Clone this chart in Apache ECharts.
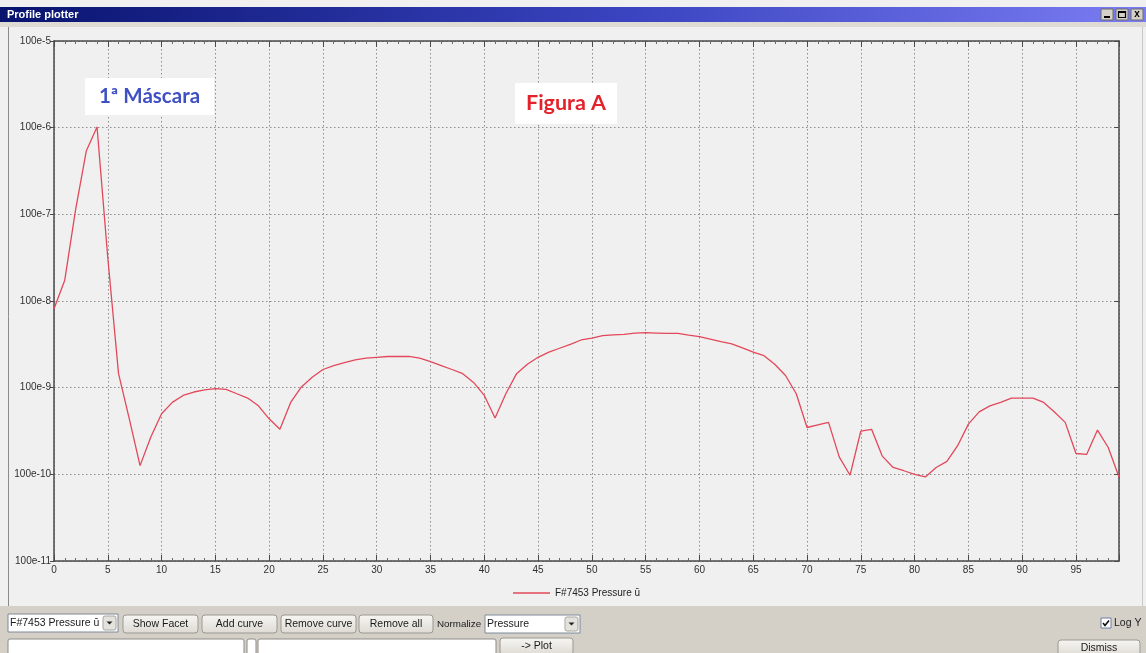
<!DOCTYPE html>
<html>
<head>
<meta charset="utf-8">
<title>Profile plotter</title>
<script src="https://cdn.jsdelivr.net/npm/echarts@6/dist/echarts.min.js"></script>
<style>
  html, body { margin: 0; padding: 0; background: #ffffff; }
  #chart { width: 1146px; height: 653px; }
</style>
</head>
<body>
<div id="chart"></div>
<script>
// Facet positions along the profile
const positions = [
  0, 1, 2, 3, 4, 5, 6, 7, 8, 9,
  10, 11, 12, 13, 14, 15, 16, 17, 18, 19,
  20, 21, 22, 23, 24, 25, 26, 27, 28, 29,
  30, 31, 32, 33, 34, 35, 36, 37, 38, 39,
  40, 41, 42, 43, 44, 45, 46, 47, 48, 49,
  50, 51, 52, 53, 54, 55, 56, 57, 58, 59,
  60, 61, 62, 63, 64, 65, 66, 67, 68, 69,
  70, 71, 72, 73, 74, 75, 76, 77, 78, 79,
  80, 81, 82, 83, 84, 85, 86, 87, 88, 89,
  90, 91, 92, 93, 94, 95, 96, 97, 98, 99
];

// Pressure on each facet (F#7453)
const pressure = [
  8.13e-7, 1.74e-6, 1.12e-5, 5.37e-5, 1.02e-4, 3.16e-6, 1.45e-7, 4.37e-8, 1.26e-8, 2.69e-8,
  5.01e-8, 6.76e-8, 8.13e-8, 8.91e-8, 9.44e-8, 9.77e-8, 9.55e-8, 8.51e-8, 7.59e-8, 6.17e-8,
  4.37e-8, 3.31e-8, 6.76e-8, 1.02e-7, 1.32e-7, 1.62e-7, 1.80e-7, 1.95e-7, 2.09e-7, 2.19e-7,
  2.24e-7, 2.29e-7, 2.29e-7, 2.29e-7, 2.19e-7, 2.00e-7, 1.80e-7, 1.62e-7, 1.45e-7, 1.15e-7,
  8.13e-8, 4.47e-8, 8.51e-8, 1.45e-7, 1.86e-7, 2.24e-7, 2.57e-7, 2.85e-7, 3.16e-7, 3.55e-7,
  3.72e-7, 3.98e-7, 4.07e-7, 4.12e-7, 4.27e-7, 4.32e-7, 4.27e-7, 4.22e-7, 4.22e-7, 4.03e-7,
  3.89e-7, 3.63e-7, 3.39e-7, 3.20e-7, 2.88e-7, 2.57e-7, 2.34e-7, 1.86e-7, 1.38e-7, 8.51e-8,
  3.47e-8, 3.72e-8, 3.98e-8, 1.58e-8, 9.77e-9, 3.16e-8, 3.31e-8, 1.62e-8, 1.20e-8, 1.10e-8,
  1.00e-8, 9.33e-9, 1.20e-8, 1.41e-8, 2.14e-8, 3.80e-8, 5.25e-8, 6.17e-8, 6.76e-8, 7.59e-8,
  7.59e-8, 7.59e-8, 6.76e-8, 5.25e-8, 3.98e-8, 1.74e-8, 1.70e-8, 3.24e-8, 2.04e-8, 9.33e-9
];

// Decade tick labels, top to bottom
const yTickLabels = ['100e-5', '100e-6', '100e-7', '100e-8', '100e-9', '100e-10', '100e-11'];
const yTopExponent = -3;

const seriesName = 'F#7453 Pressure \u016b';
const noteMask = '1\u00aa M\u00e1scara';
const noteFigure = 'Figura A';

// Toolbar captions
const toolbarButtons = ['Show Facet', 'Add curve', 'Remove curve', 'Remove all'];
const normalizeLabel = 'Normalize';
const normalizeChoice = 'Pressure';
const logLabel = 'Log Y';
const plotButton = '-> Plot';
const dismissButton = 'Dismiss';
const windowTitle = 'Profile plotter';

const uiFont = '"Liberation Sans", Arial, sans-serif';

// children of a group inherit the group's stacking level
function withZ(el, z) {
  el.z = z;
  if (el.children) el.children.forEach(function (c) { withZ(c, z); });
  return el;
}

function button(x, y, w, h, label) {
  return withZ({
    type: 'group', x: x, y: y,
    children: [
      { type: 'rect', shape: { x: 0, y: 0, width: w, height: h, r: 3 },
        style: { fill: new echarts.graphic.LinearGradient(0, 0, 0, 1, [
          { offset: 0, color: '#f7f6f3' }, { offset: 1, color: '#dddad3' }]),
          stroke: '#9a9891', lineWidth: 1 } },
      { type: 'text', x: w / 2, y: h / 2,
        style: { text: label, fill: '#1a1a1a', font: '10.5px ' + uiFont,
          align: 'center', verticalAlign: 'middle' } }
    ]
  }, 50);
}

function combo(x, y, w, h, label) {
  return withZ({
    type: 'group', x: x, y: y,
    children: [
      { type: 'rect', shape: { x: 0, y: 0, width: w, height: h },
        style: { fill: '#ffffff', stroke: '#7f8a99', lineWidth: 1 } },
      { type: 'text', x: 2, y: h / 2,
        style: { text: label, fill: '#1a1a1a', font: '10.5px ' + uiFont, verticalAlign: 'middle' } },
      { type: 'rect', shape: { x: w - 15, y: 2, width: 13, height: h - 4, r: 2 },
        style: { fill: '#e4e2dc', stroke: '#a8a69f', lineWidth: 1 } },
      { type: 'polygon', shape: { points: [[w - 11.5, h / 2 - 1.5], [w - 5.5, h / 2 - 1.5], [w - 8.5, h / 2 + 1.5]] },
        style: { fill: '#222222' } }
    ]
  }, 50);
}

function field(x, y, w, h) {
  return { type: 'rect', z: 50, shape: { x: x, y: y, width: w, height: h, r: 2 },
    style: { fill: '#ffffff', stroke: '#8e8c86', lineWidth: 1 } };
}

const graphics = [
  // window title bar
  { type: 'rect', z: 40, shape: { x: 0, y: 7, width: 1146, height: 15 },
    style: { fill: new echarts.graphic.LinearGradient(0, 0, 1, 0, [
      { offset: 0, color: '#08136e' }, { offset: 0.55, color: '#3a44c0' }, { offset: 1, color: '#7a7cf2' }]) } },
  { type: 'text', z: 41, x: 7, y: 14.5,
    style: { text: windowTitle, fill: '#ffffff', font: 'bold 11px ' + uiFont, verticalAlign: 'middle' } },
  // caption buttons
  withZ({ type: 'group', x: 1101, y: 9, children: [
    { type: 'rect', shape: { x: 0, y: 0, width: 12, height: 11 }, style: { fill: '#d4d0c8', stroke: '#6f6f6f' } },
    { type: 'rect', shape: { x: 3, y: 7, width: 6, height: 2 }, style: { fill: '#000' } },
    { type: 'rect', shape: { x: 15, y: 0, width: 12, height: 11 }, style: { fill: '#d4d0c8', stroke: '#6f6f6f' } },
    { type: 'rect', shape: { x: 17.5, y: 2.5, width: 7, height: 6 }, style: { fill: 'none', stroke: '#000', lineWidth: 1.2 } },
    { type: 'rect', shape: { x: 17.5, y: 2, width: 7, height: 2 }, style: { fill: '#000' } },
    { type: 'rect', shape: { x: 30, y: 0, width: 12, height: 11 }, style: { fill: '#d4d0c8', stroke: '#6f6f6f' } },
    { type: 'text', x: 36, y: 5.5, style: { text: 'x', fill: '#000', font: 'bold 10px ' + uiFont, align: 'center', verticalAlign: 'middle' } }
  ] }, 42),
  // strip below the title bar
  { type: 'rect', z: -5, shape: { x: 0, y: 22, width: 1146, height: 5 }, style: { fill: '#dedbd4' } },
  // plot panel edges
  { type: 'line', z: -4, shape: { x1: 8.5, y1: 27, x2: 8.5, y2: 606 }, style: { stroke: '#8a8a8a', lineWidth: 1 } },
  { type: 'line', z: -4, shape: { x1: 1142.5, y1: 27, x2: 1142.5, y2: 606 }, style: { stroke: '#c8c8c8', lineWidth: 1 } },
  // toolbar background
  { type: 'rect', z: 30, shape: { x: 0, y: 606, width: 1146, height: 47 }, style: { fill: '#d4d0c8' } },
  combo(8, 614, 110, 18, seriesName),
  button(123, 615, 75, 18, toolbarButtons[0]),
  button(202, 615, 75, 18, toolbarButtons[1]),
  button(281, 615, 75, 18, toolbarButtons[2]),
  button(359, 615, 74, 18, toolbarButtons[3]),
  { type: 'text', z: 50, x: 437, y: 624,
    style: { text: normalizeLabel, fill: '#1a1a1a', font: '9.8px ' + uiFont, verticalAlign: 'middle' } },
  combo(485, 615, 95, 18, normalizeChoice),
  // Log Y checkbox
  withZ({ type: 'group', x: 1101, y: 618, children: [
    { type: 'rect', shape: { x: 0, y: 0, width: 10, height: 10 }, style: { fill: '#ffffff', stroke: '#6a7fa0', lineWidth: 1 } },
    { type: 'polyline', shape: { points: [[2, 5], [4, 7.5], [8, 2.5]] }, style: { stroke: '#111', lineWidth: 1.6, fill: 'none' } },
    { type: 'text', x: 13, y: 5, style: { text: logLabel, fill: '#1a1a1a', font: '10.5px ' + uiFont, verticalAlign: 'middle' } }
  ] }, 50),
  // second row
  field(8, 639, 236, 16),
  field(247, 639, 9, 16),
  field(258, 639, 238, 16),
  button(500, 638, 73, 17, plotButton),
  button(1058, 640, 82, 16, dismissButton),
  // notes on the plot
  withZ({ type: 'group', x: 85, y: 78, children: [
    { type: 'rect', shape: { x: 0, y: 0, width: 129, height: 37 }, style: { fill: '#ffffff' } },
    { type: 'text', x: 64.5, y: 18.5, style: { text: noteMask, fill: '#3f4fc4',
      font: 'bold 20.5px Lato, "Noto Sans", sans-serif', align: 'center', verticalAlign: 'middle' } }
  ] }, 100),
  withZ({ type: 'group', x: 515, y: 83, children: [
    { type: 'rect', shape: { x: 0, y: 0, width: 102, height: 41 }, style: { fill: '#ffffff' } },
    { type: 'text', x: 51, y: 20.5, style: { text: noteFigure, fill: '#e4222c',
      font: 'bold 21.5px Lato, "Noto Sans", sans-serif', align: 'center', verticalAlign: 'middle' } }
  ] }, 100)
];

const axisDark = { show: true, lineStyle: { color: '#4a4a4a', width: 1.5 } };
const gridDots = { show: true, lineStyle: { color: '#8c8c8c', width: 1, type: [1.5, 2.5] } };
const tickFont = { color: '#303030', fontSize: 10, fontFamily: uiFont };

const chart = echarts.init(document.getElementById('chart'), null, { renderer: 'canvas' });

chart.setOption({
  backgroundColor: '#f0f0f0',
  animation: false,
  graphic: graphics,
  grid: { left: 54, right: 27, top: 41, bottom: 92, containLabel: false },
  legend: {
    left: 508, top: 583, icon: 'rect', itemWidth: 37, itemHeight: 1.5, itemGap: 10,
    textStyle: { color: '#222', fontSize: 10, fontFamily: uiFont },
    data: [seriesName]
  },
  xAxis: [
    {
      type: 'value', position: 'bottom', min: 0, max: 99, interval: 5,
      axisLine: Object.assign({ onZero: false }, axisDark),
      axisTick: { show: true, inside: true, length: 6, lineStyle: { color: '#4a4a4a', width: 1 } },
      minorTick: { show: true, splitNumber: 5, length: 3, lineStyle: { color: '#6a6a6a' } },
      splitLine: gridDots,
      axisLabel: Object.assign({ margin: 4, showMaxLabel: false }, tickFont)
    },
    {
      type: 'value', position: 'top', min: 0, max: 99, interval: 5,
      axisLine: Object.assign({ onZero: false }, axisDark),
      axisTick: { show: true, inside: true, length: 6, lineStyle: { color: '#4a4a4a', width: 1 } },
      minorTick: { show: true, splitNumber: 5, length: 3, lineStyle: { color: '#6a6a6a' } },
      splitLine: { show: false },
      axisLabel: { show: false }
    }
  ],
  yAxis: [
    {
      type: 'log', logBase: 10, position: 'left', min: 1e-9, max: 1e-3,
      axisLine: Object.assign({ onZero: false }, axisDark),
      axisTick: { show: true, inside: false, length: 4, lineStyle: { color: '#4a4a4a', width: 1 } },
      splitLine: gridDots,
      axisLabel: Object.assign({
        margin: 3,
        formatter: function (v) {
          const e = Math.round(Math.log10(v));
          return yTickLabels[yTopExponent - e] || '';
        }
      }, tickFont)
    },
    {
      type: 'log', logBase: 10, position: 'right', min: 1e-9, max: 1e-3,
      axisLine: Object.assign({ onZero: false }, axisDark),
      axisTick: { show: true, inside: true, length: 5, lineStyle: { color: '#4a4a4a', width: 1 } },
      splitLine: { show: false },
      axisLabel: { show: false }
    }
  ],
  series: [
    {
      name: seriesName,
      type: 'line',
      xAxisIndex: 0,
      yAxisIndex: 0,
      showSymbol: false,
      symbol: 'none',
      smooth: false,
      itemStyle: { color: '#e2485a' },
      lineStyle: { color: '#e2485a', width: 1.3 },
      data: positions.map(function (x, i) { return [x, pressure[i]]; }),
      z: 3
    }
  ]
});
</script>
</body>
</html>
